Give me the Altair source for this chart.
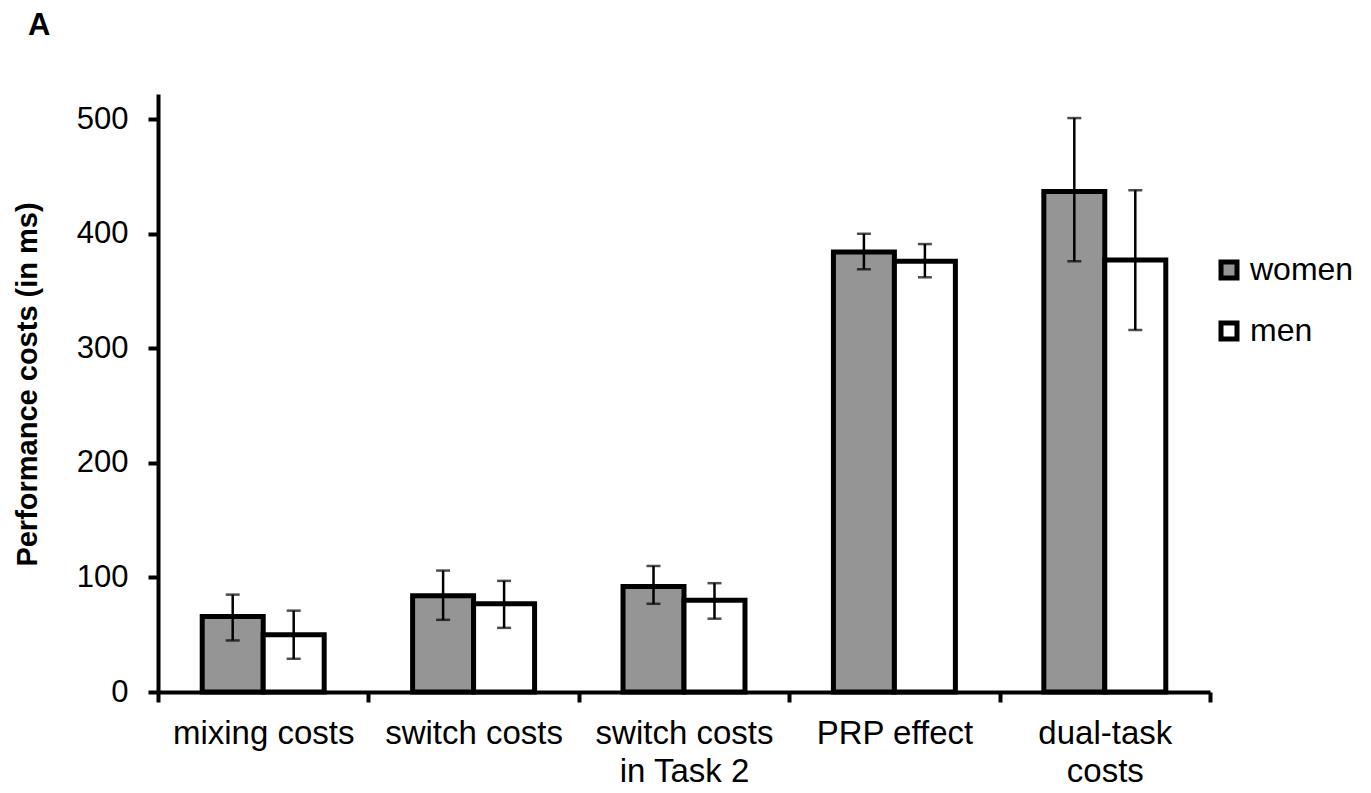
import altair as alt
import pandas as pd

categories = ["mixing costs", "switch costs", "switch costs in Task 2", "PRP effect", "dual-task costs"]
groups = ["women", "men"]
women = [66, 84, 92, 384, 437]
men = [50, 77, 80, 376, 377]
women_lo = [45, 63, 77, 369, 376]
women_hi = [85, 106, 110, 400, 501]
men_lo = [29, 56, 64, 362, 316]
men_hi = [71, 97, 95, 391, 438]
y_ticks = [0, 100, 200, 300, 400, 500]
panel_label = ["A"]

rows = []
for i, c in enumerate(categories):
    rows.append({"cat": c, "sex": "women", "v": women[i], "lo": women_lo[i], "hi": women_hi[i]})
    rows.append({"cat": c, "sex": "men", "v": men[i], "lo": men_lo[i], "hi": men_hi[i]})
df = pd.DataFrame(rows)

FONT = "Liberation Sans"

label_expr = ("datum.label == 'switch costs in Task 2' ? ['switch costs', 'in Task 2'] : "
              "datum.label == 'dual-task costs' ? ['dual-task', 'costs'] : datum.label")

x_scale = alt.Scale(paddingInner=0, paddingOuter=0)
x_enc = alt.X("cat:N", sort=categories, title=None, scale=x_scale,
              axis=alt.Axis(labelAngle=0, ticks=True, tickBand="extent",
                            labelExpr=label_expr, grid=False, labelLimit=400,
                            labelFontSize=33, labelFont=FONT, labelColor="black",
                            labelLineHeight=38, labelPadding=15, tickSize=10,
                            tickWidth=4, tickColor="black", domainColor="black",
                            domainWidth=4, labelBaseline="top"))
xo = alt.XOffset("sex:N", sort=groups, scale=alt.Scale(paddingInner=0, paddingOuter=0.725))
y_scale = alt.Scale(domain=[0, 522], nice=False)

base = alt.Chart(df)

bars = base.mark_bar(stroke="black", strokeWidth=5).encode(
    x=x_enc,
    xOffset=xo,
    y=alt.Y("v:Q", scale=y_scale, title="Performance costs (in ms)",
            axis=alt.Axis(values=y_ticks, grid=False, labelFontSize=31, labelFont=FONT,
                          labelColor="black", tickSize=10, tickWidth=4, tickColor="black",
                          domainColor="black", domainWidth=4, labelPadding=20,
                          titleFont=FONT, titleFontSize=29, titleFontWeight="bold",
                          titleColor="black", titleX=-122, titleY=290, titleAngle=-90,
                          titleAlign="center", titleBaseline="alphabetic")),
    fill=alt.Fill("sex:N", sort=groups,
                  scale=alt.Scale(domain=groups, range=["#959595", "#ffffff"]),
                  legend=alt.Legend(title=None, orient="none", legendX=1055, legendY=160,
                                    symbolType="square", symbolSize=256,
                                    symbolStrokeColor="black", symbolStrokeWidth=5,
                                    labelFontSize=32, labelFont=FONT, labelColor="black",
                                    rowPadding=25, labelOffset=5, padding=0)),
)

err = base.mark_rule(color="black", strokeWidth=2.5).encode(
    x=alt.X("cat:N", sort=categories),
    xOffset=xo,
    y=alt.Y("lo:Q", scale=y_scale),
    y2="hi:Q",
)
cap_lo = base.mark_tick(color="black", thickness=2.5, size=14).encode(
    x=alt.X("cat:N", sort=categories), xOffset=xo, y=alt.Y("lo:Q", scale=y_scale))
cap_hi = base.mark_tick(color="black", thickness=2.5, size=14).encode(
    x=alt.X("cat:N", sort=categories), xOffset=xo, y=alt.Y("hi:Q", scale=y_scale))

label_df = pd.DataFrame({"t": panel_label})
panel = alt.Chart(label_df).mark_text(
    font=FONT, fontSize=31, fontWeight="bold", color="black", align="left",
    baseline="alphabetic").encode(
    text="t:N", x=alt.value(-130), y=alt.value(-59))

chart = alt.layer(bars, err, cap_lo, cap_hi, panel).properties(
    width=1052, height=598,
    autosize=alt.AutoSizeParams(type="none"),
    padding={"left": 150, "top": 86, "right": 150, "bottom": 98},
).configure(background="white").configure_view(stroke=None)

chart.save("out.html", embed_options={"renderer": "svg", "actions": False})
